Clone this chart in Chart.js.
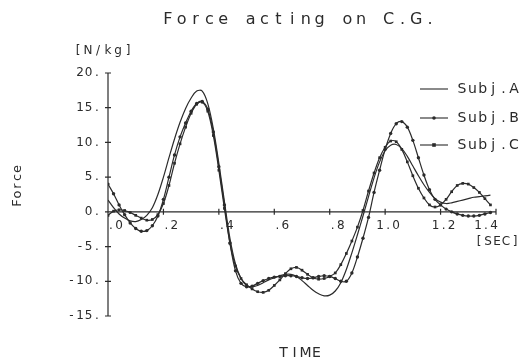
<!DOCTYPE html>
<html>
<head>
<meta charset="utf-8">
<script src="https://cdn.jsdelivr.net/npm/chart.js@4.4.0/dist/chart.umd.min.js"></script>
<style>
  html, body { margin: 0; padding: 0; background: #fff; }
  #wrap { width: 521px; height: 361px; }
</style>
</head>
<body>
<div id="wrap"><canvas id="forceChart" width="521" height="361"></canvas></div>
<script>
// time samples [SEC]
const times = [
  0.00, 0.02, 0.04, 0.06, 0.08, 0.10, 0.12, 0.14, 0.16, 0.18,
  0.20, 0.22, 0.24, 0.26, 0.28, 0.30, 0.32, 0.34, 0.36, 0.38,
  0.40, 0.42, 0.44, 0.46, 0.48, 0.50, 0.52, 0.54, 0.56, 0.58,
  0.60, 0.62, 0.64, 0.66, 0.68, 0.70, 0.72, 0.74, 0.76, 0.78,
  0.80, 0.82, 0.84, 0.86, 0.88, 0.90, 0.92, 0.94, 0.96, 0.98,
  1.00, 1.02, 1.04, 1.06, 1.08, 1.10, 1.12, 1.14, 1.16, 1.18,
  1.20, 1.22, 1.24, 1.26, 1.28, 1.30, 1.32, 1.34, 1.36, 1.38
];

// force [N/kg]
const subjA = [
  1.7, 0.6, -0.3, -0.9, -1.3, -1.4, -1.1, -0.5, 0.6, 2.5,
  5.0, 7.8, 10.5, 12.9, 14.9, 16.4, 17.4, 17.4, 15.6, 12.0,
  7.0, 1.5, -3.8, -7.5, -9.6, -10.6, -10.8, -10.6, -10.2, -9.8,
  -9.5, -9.2, -9.0, -9.0, -9.3, -9.9, -10.6, -11.3, -11.8, -12.1,
  -12.0, -11.4, -10.2, -8.3, -5.9, -3.3, -0.6, 2.2, 4.9, 7.2,
  8.8, 9.6, 9.7, 9.1, 8.0, 6.6, 5.2, 3.9, 2.8, 1.9,
  1.4, 1.2, 1.3, 1.5, 1.7, 1.9, 2.1, 2.2, 2.3, 2.4
];
const subjB = [
  4.0, 2.6, 1.0, -0.4, -1.6, -2.4, -2.8, -2.7, -2.0, -0.6,
  1.8, 5.0, 8.2, 10.8, 12.8, 14.5, 15.6, 15.9, 14.8, 11.5,
  6.5, 1.0, -4.5, -8.5, -10.3, -10.8, -10.7, -10.3, -9.9, -9.6,
  -9.4, -9.3, -9.2, -9.2, -9.3, -9.5, -9.6, -9.5, -9.3, -9.2,
  -9.3, -9.6, -10.0, -10.0, -8.8, -6.5, -3.8, -0.8, 2.8, 6.0,
  9.0, 11.3, 12.7, 13.0, 12.2, 10.3, 7.8, 5.3, 3.2, 1.8,
  1.0, 0.4, 0.0, -0.3, -0.5, -0.6, -0.6, -0.5, -0.3, -0.1
];
const subjC = [
  -0.5, 0.1, 0.3, 0.2, -0.1, -0.5, -0.9, -1.2, -1.1, -0.4,
  1.2, 3.8, 7.0, 9.8, 12.2, 14.2, 15.5, 15.8, 14.5, 11.0,
  6.0, 0.5, -4.5, -7.8, -9.6, -10.5, -11.1, -11.5, -11.6, -11.3,
  -10.6, -9.8, -8.9, -8.2, -8.0, -8.4, -9.0, -9.5, -9.7, -9.6,
  -9.3, -8.8, -7.6, -6.0, -4.2, -2.2, 0.2, 3.0, 5.6, 7.8,
  9.3, 10.2, 10.1, 9.0, 7.2, 5.2, 3.4, 2.0, 1.0, 0.7,
  1.0, 1.8, 2.9, 3.8, 4.1, 4.0, 3.5, 2.8, 1.9, 1.0
];

const seriesNames = ["Subj.A", "Subj.B", "Subj.C"];
const xTicks = [0, 0.2, 0.4, 0.6, 0.8, 1.0, 1.2, 1.4];
const xTickLabels = [".0", ".2", ".4", ".6", ".8", "1.0", "1.2", "1.4"];
const yTicks = [20, 15, 10, 5, 0, -5, -10, -15];
const yTickLabels = ["20.", "15.", "10.", "5.", "0.", "-5.", "-10.", "-15."];

const INK = "#2b2b2b";
const FONT = "'DejaVu Sans'";

// draw text one char at a time (plotter style spacing)
function spaced(ctx, text, cx, cy, adv) {
  const chars = text.split("");
  const start = cx - (chars.length - 1) * adv / 2;
  chars.forEach((ch, i) => ctx.fillText(ch, start + i * adv, cy));
}

const axesPlugin = {
  id: "plotterAxes",
  beforeDatasetsDraw(chart) {
    const ctx = chart.ctx;
    const xs = chart.scales.x, ys = chart.scales.y;
    const x0 = xs.getPixelForValue(0), y0 = ys.getPixelForValue(0);
    ctx.save();
    ctx.strokeStyle = INK;
    ctx.fillStyle = INK;
    ctx.lineWidth = 1.2;

    // vertical axis
    ctx.beginPath();
    ctx.moveTo(x0, ys.getPixelForValue(20));
    ctx.lineTo(x0, ys.getPixelForValue(-15));
    yTicks.forEach(v => {
      const py = ys.getPixelForValue(v);
      ctx.moveTo(x0 - 3, py);
      ctx.lineTo(x0 + 3, py);
    });
    // horizontal axis through zero
    ctx.moveTo(x0, y0);
    ctx.lineTo(xs.getPixelForValue(1.4), y0);
    xTicks.forEach(v => {
      const px = xs.getPixelForValue(v);
      ctx.moveTo(px, y0 - 3);
      ctx.lineTo(px, y0 + 3);
    });
    ctx.stroke();

    ctx.font = "12px " + FONT;
    ctx.textAlign = "center";
    ctx.textBaseline = "middle";
    yTicks.forEach((v, i) => {
      const lbl = yTickLabels[i];
      const adv = 8.5;
      const right = x0 - 11;
      spaced(ctx, lbl, right - (lbl.length - 1) * adv / 2, ys.getPixelForValue(v), adv);
    });
    xTicks.forEach((v, i) => {
      const lbl = xTickLabels[i].length < 3 ? " " + xTickLabels[i] : xTickLabels[i];
      let cx = xs.getPixelForValue(v) + 3;
      if (i === xTicks.length - 1) cx -= 13;
      spaced(ctx, lbl, cx, y0 + 14, 8);
    });
    spaced(ctx, "[SEC]", 497, y0 + 30, 9);
    ctx.restore();
  },
  afterDraw(chart) {
    const ctx = chart.ctx;
    ctx.save();
    ctx.fillStyle = INK;
    ctx.strokeStyle = INK;
    ctx.textAlign = "center";
    ctx.textBaseline = "middle";

    ctx.font = "16px " + FONT;
    spaced(ctx, "Force acting on C.G.", 299, 20, 13.8);

    ctx.font = "12px " + FONT;
    spaced(ctx, "[N/kg]", 103, 51, 10);

    ctx.font = "14px " + FONT;
    spaced(ctx, "TIME", 300, 353, 11);

    ctx.save();
    ctx.translate(18, 186);
    ctx.rotate(-Math.PI / 2);
    ctx.font = "13px " + FONT;
    spaced(ctx, "Force", 0, 0, 8.5);
    ctx.restore();

    // legend
    const rows = [89, 118, 145];
    chart.data.datasets.forEach((ds, i) => {
      const y = rows[i];
      ctx.lineWidth = 1.1;
      ctx.beginPath();
      ctx.moveTo(420, y);
      ctx.lineTo(448, y);
      ctx.stroke();
      if (ds.pointRadius > 0) {
        if (ds.pointStyle === "rect") {
          ctx.fillRect(434 - 1.8, y - 1.8, 3.6, 3.6);
        } else {
          ctx.beginPath();
          ctx.arc(434, y, 1.8, 0, Math.PI * 2);
          ctx.fill();
        }
      }
      ctx.font = "14px " + FONT;
      spaced(ctx, ds.label, 488, y, 10.4);
    });
    ctx.restore();
  }
};

function toPoints(vals) {
  return vals.map((v, i) => ({ x: times[i], y: v }));
}

const ctx = document.getElementById("forceChart").getContext("2d");
new Chart(ctx, {
  type: "line",
  data: {
    datasets: [
      {
        label: seriesNames[0],
        data: toPoints(subjA),
        borderColor: INK,
        borderWidth: 1.2,
        pointRadius: 0,
        tension: 0.35
      },
      {
        label: seriesNames[1],
        data: toPoints(subjB),
        borderColor: INK,
        backgroundColor: INK,
        borderWidth: 1.2,
        pointStyle: "circle",
        pointRadius: 1.7,
        pointBorderWidth: 0,
        tension: 0.35
      },
      {
        label: seriesNames[2],
        data: toPoints(subjC),
        borderColor: INK,
        backgroundColor: INK,
        borderWidth: 1.2,
        pointStyle: "rect",
        pointRadius: 1.9,
        pointBorderWidth: 0,
        tension: 0.35
      }
    ]
  },
  options: {
    responsive: false,
    animation: false,
    layout: { padding: { left: 108, right: 25, top: 73, bottom: 45 } },
    scales: {
      x: { type: "linear", min: 0, max: 1.4, display: false },
      y: { min: -15, max: 20, display: false }
    },
    plugins: {
      legend: { display: false },
      tooltip: { enabled: false }
    }
  },
  plugins: [axesPlugin]
});
</script>
</body>
</html>
